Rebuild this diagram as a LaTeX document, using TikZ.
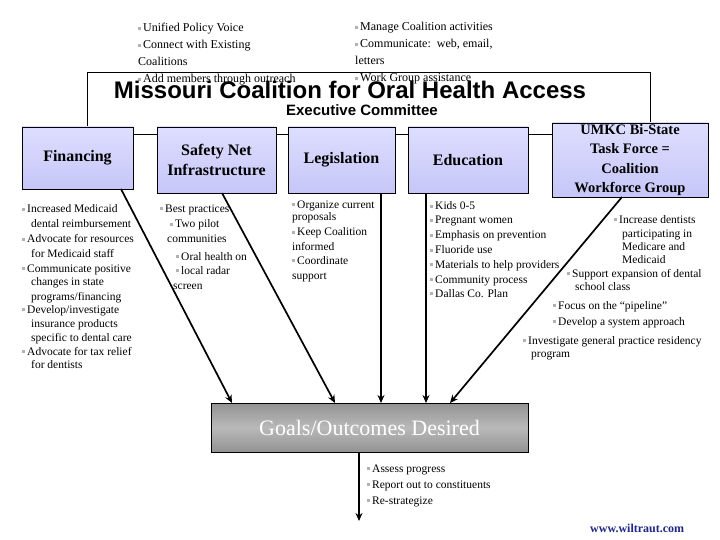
\documentclass[tikz,border=0pt]{standalone}
\usepackage{fontspec}
\setmainfont{Liberation Serif}
\newfontfamily\arialf{Liberation Sans}
\usetikzlibrary{arrows.meta}
\definecolor{lav}{RGB}{198,198,248}
\definecolor{lavtop}{RGB}{222,222,255}
\definecolor{navy}{RGB}{30,40,130}
\newcommand{\bul}{\textcolor{gray!60}{\rule[0.3ex]{3pt}{3pt}}\hspace{2pt}}
\tikzset{
  lbl/.style={anchor=base west,inner sep=0pt,font=\fontsize{11.5}{13}\selectfont},
  topl/.style={anchor=base west,inner sep=0pt,font=\fontsize{12}{14}\selectfont},
  cbox/.style={draw=black,line width=0.6pt,top color=lavtop,bottom color=lav,align=center,font=\bfseries\fontsize{16}{20}\selectfont,inner sep=0pt},
  conn/.style={line width=1.7pt,-{Stealth[length=8pt,width=7pt]}},
  plain/.style={line width=0.8pt}
}
\begin{document}
\begin{tikzpicture}[x=1pt,y=-1pt]
\useasboundingbox[fill=white] (0,0) rectangle (720,540);
% top texts
\node[topl] (u1) at (138,32) {\bul Unified Policy Voice};
\node[topl] (u2) at (138,49) {\bul Connect with Existing};
\node[topl] (u3) at (138,66) {Coalitions};
\node[topl] (u4) at (138,83) {\bul Add members through outreach};
\node[topl] (m1) at (355,31) {\bul Manage Coalition activities};
\node[topl] (m2) at (355,48) {\bul Communicate:\ \ web, email,};
\node[topl] (m3) at (355,65) {letters};
\node[topl] (m4) at (355,82) {\bul Work Group assistance};
% exec rectangle
\draw[plain] (87,127) -- (87,72) -- (650,72) -- (650,127);
\node[inner sep=0pt,font=\arialf\bfseries\fontsize{24}{26}\selectfont] (title) at (350,90) {Missouri Coalition for Oral Health Access};
\node[inner sep=0pt,font=\arialf\bfseries\fontsize{15}{17}\selectfont] (exec) at (362,110) {Executive Committee};
\draw[plain] (22,134) -- (708,134);
% boxes
\node[cbox,minimum width=111pt,minimum height=62pt] (fin) at (77.5,158) {Financing};
\node[cbox,minimum width=119pt,minimum height=66pt] (saf) at (216.5,160) {Safety Net\\Infrastructure};
\node[cbox,minimum width=107pt,minimum height=66pt] (leg) at (341.5,160) {Legislation};
\node[cbox,minimum width=120pt,minimum height=66pt] (edu) at (468,160) {Education};
\node[cbox,minimum width=156pt,minimum height=74pt,font=\bfseries\fontsize{14.5}{19.5}\selectfont] (umk) at (630,160) {UMKC Bi-State\\Task Force =\\Coalition\\Workforce Group};
% goals
\node[draw=black,line width=0.8pt,minimum width=317pt,minimum height=49pt,
  shading=axis,top color=gray!85,bottom color=gray!85,middle color=gray!55,
  text=white,font=\fontsize{22}{24}\selectfont,inner sep=0pt] (goal) at (369.5,427.5) {Goals/Outcomes Desired};
\coordinate (g1) at (232,403);
\coordinate (g2) at (335,403);
\coordinate (g3) at (381,403);
\coordinate (g4) at (426,403);
\coordinate (g5) at (450,403);
\coordinate (f0) at (121,189);
\coordinate (s0) at (222,193);
\coordinate (l0) at (381,193);
\coordinate (e0) at (426,193);
\coordinate (k0) at (622,197);
\draw[conn] (f0) -- (g1);
\draw[conn] (s0) -- (g2);
\draw[conn] (l0) -- (g3);
\draw[conn] (e0) -- (g4);
\draw[conn] (k0) -- (g5);
\coordinate (gb) at (359,521);
\draw[conn] (goal.south -| gb) -- (gb);
% financing
\node[lbl] (f1) at (22,213) {\bul Increased Medicaid};
\node[lbl] (f2) at (31,227) {dental reimbursement};
\node[lbl] (f3) at (22,243) {\bul Advocate for resources};
\node[lbl] (f4) at (31,257) {for Medicaid staff};
\node[lbl] (f5) at (22,272) {\bul Communicate positive};
\node[lbl] (f6) at (31,285) {changes in state};
\node[lbl] (f7) at (31,300) {programs/financing};
\node[lbl] (f8) at (22,313) {\bul Develop/investigate};
\node[lbl] (f9) at (31,327) {insurance products};
\node[lbl] (f10) at (31,341) {specific to dental care};
\node[lbl] (f11) at (22,355) {\bul Advocate for tax relief};
\node[lbl] (f12) at (31,368) {for dentists};
% safety
\node[lbl] (s1) at (160,212) {\bul Best practices};
\node[lbl] (s2) at (170,228) {\bul Two pilot};
\node[lbl] (s3) at (167,243) {communities};
\node[lbl] (s4) at (176,260) {\bul Oral health on};
\node[lbl] (s5) at (176,274) {\bul local radar};
\node[lbl] (s6) at (173,289) {screen};
% legislation
\node[lbl] (l1) at (292,208) {\bul Organize current};
\node[lbl] (l2) at (292,221) {proposals};
\node[lbl] (l3) at (292,236) {\bul Keep Coalition};
\node[lbl] (l4) at (292,250) {informed};
\node[lbl] (l5) at (292,264) {\bul Coordinate};
\node[lbl] (l6) at (292,279) {support};
% education
\node[lbl] (e1) at (430,210) {\bul Kids 0-5};
\node[lbl] (e2) at (430,224) {\bul Pregnant women};
\node[lbl] (e3) at (430,239) {\bul Emphasis on prevention};
\node[lbl] (e4) at (430,254) {\bul Fluoride use};
\node[lbl] (e5) at (430,268) {\bul Materials to help providers};
\node[lbl] (e6) at (430,283) {\bul Community process};
\node[lbl] (e7) at (430,297) {\bul Dallas Co. Plan};
% umkc
\node[lbl] (k1) at (614,223) {\bul Increase dentists};
\node[lbl] (k2) at (622,237) {participating in};
\node[lbl] (k3) at (622,250) {Medicare and};
\node[lbl] (k4) at (622,263) {Medicaid};
\node[lbl] (k5) at (567,277) {\bul Support expansion of dental};
\node[lbl] (k6) at (575,290) {school class};
\node[lbl] (k7) at (553,309) {\bul Focus on the “pipeline”};
\node[lbl] (k8) at (553,325) {\bul Develop a system approach};
\node[lbl] (k9) at (523,344) {\bul Investigate general practice residency};
\node[lbl] (k10) at (531,357) {program};
% goals bullets
\node[lbl] (o1) at (367,472) {\bul Assess progress};
\node[lbl] (o2) at (367,488) {\bul Report out to constituents};
\node[lbl] (o3) at (367,504) {\bul Re-strategize};
\node[anchor=base west,inner sep=0pt,text=navy,font=\bfseries\fontsize{12}{14}\selectfont] (www) at (590,532) {www.wiltraut.com};
\end{tikzpicture}
\end{document}
